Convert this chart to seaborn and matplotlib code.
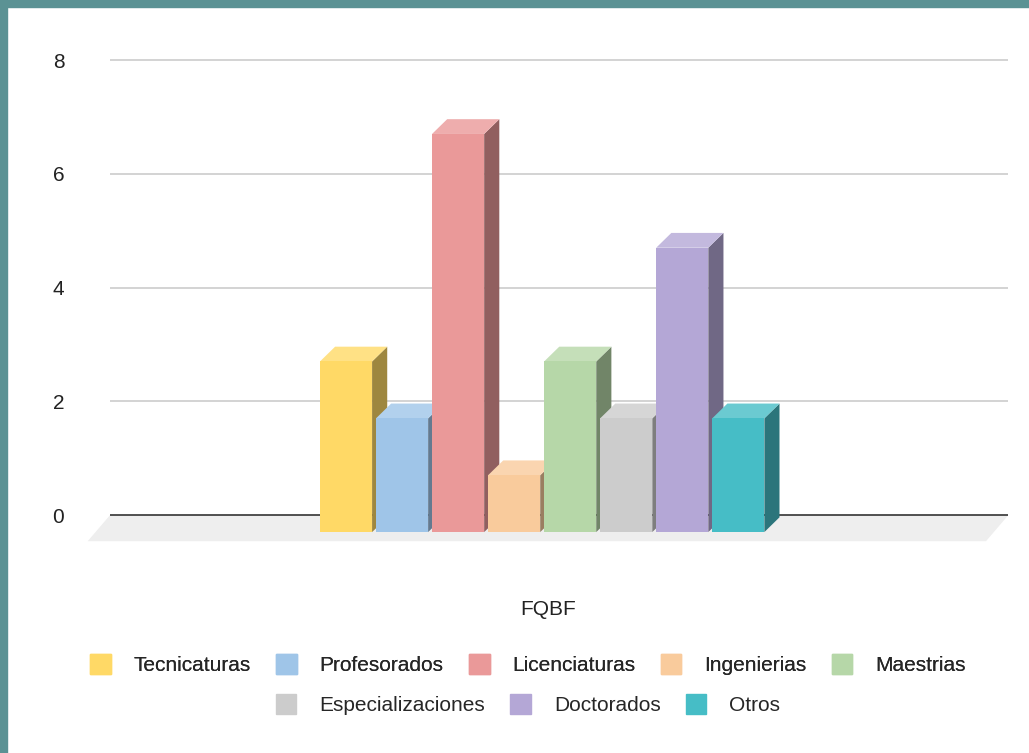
import matplotlib.pyplot as plt
import matplotlib.patches as mpatches
from matplotlib.colors import to_rgb
import seaborn as sns
import pandas as pd

categories = ['Tecnicaturas', 'Profesorados', 'Licenciaturas', 'Ingenierias',
              'Maestrias', 'Especializaciones', 'Doctorados', 'Otros']
values = [3, 2, 7, 1, 3, 2, 5, 2]
colors = ['#FFD966', '#9FC5E8', '#EA9999', '#F9CB9C',
          '#B6D7A8', '#CCCCCC', '#B4A7D6', '#46BDC6']
group_label = 'FQBF'

data = pd.DataFrame({'cat': categories, 'val': values})

sns.set_style('white')
plt.rcParams['font.family'] = ['Liberation Sans', 'DejaVu Sans']

fig = plt.figure(figsize=(10.29, 7.53), dpi=100)
ax = fig.add_axes([0.107, 0.2556, 0.873, 0.6798])

shift = 0.30   # front face drop
dx, dy = 0.27, 0.26
w = 0.93

ax.set_xlim(-4.21, 11.82)
ax.set_ylim(-0.8, 8.2)

# floor
ax.add_patch(mpatches.Polygon([(-4.21, 0), (11.82, 0), (11.42, -0.46), (-4.61, -0.46)],
                              closed=True, facecolor='#EEEEEE', edgecolor='none', zorder=0, clip_on=False))
for g in [2, 4, 6, 8]:
    ax.axhline(g, color='#CCCCCC', lw=1.2, zorder=0)
ax.axhline(0, color='#333333', lw=1.2, zorder=1)

sns.barplot(data=data, x='cat', y='val', hue='cat', palette=colors, dodge=False, saturation=1,
            width=w, bottom=-shift, legend=False, ax=ax, zorder=3, linewidth=0)

for i, (v, c) in enumerate(zip(values, colors)):
    r, g, b = to_rgb(c)
    x0, x1 = i - w / 2, i + w / 2
    top = v - shift
    side = (r * 0.62, g * 0.62, b * 0.62)
    light = tuple(k + (1 - k) * 0.2 for k in (r, g, b))
    ax.add_patch(mpatches.Polygon([(x1, -shift), (x1 + dx, -shift + dy), (x1 + dx, top + dy), (x1, top)],
                                  closed=True, facecolor=side, edgecolor='none', zorder=2))
    ax.add_patch(mpatches.Polygon([(x0, top), (x1, top), (x1 + dx, top + dy), (x0 + dx, top + dy)],
                                  closed=True, facecolor=light, edgecolor='none', zorder=2))

ax.set_xlim(-4.21, 11.82)
ax.set_ylim(-0.8, 8.2)
ax.set_yticks([0, 2, 4, 6, 8])
ax.set_xticks([])
ax.set_xlabel('')
ax.set_ylabel('')
ax.tick_params(axis='y', labelsize=15, length=0, pad=33, colors='#222222')
for s in ax.spines.values():
    s.set_visible(False)
ax.patch.set_alpha(0)

fig.text(0.533, 0.19, group_label, ha='center', va='center', fontsize=15, color='#222222')

handles = [mpatches.Patch(color=c, label=l) for c, l in zip(colors, categories)]
leg1 = fig.legend(handles=handles[:5], loc='center', bbox_to_anchor=(0.513, 0.117), ncol=5,
                  frameon=False, fontsize=15, handlelength=1.0, handleheight=1.1,
                  handletextpad=1.1, columnspacing=1.2)
fig.add_artist(leg1)
fig.legend(handles=handles[5:], loc='center', bbox_to_anchor=(0.513, 0.064), ncol=3,
           frameon=False, fontsize=15, handlelength=1.0, handleheight=1.1,
           handletextpad=1.1, columnspacing=1.2)

# teal border strips
fig.patches.append(mpatches.Rectangle((0, 0), 0.007, 1, transform=fig.transFigure, color='#5B9294'))
fig.patches.append(mpatches.Rectangle((0, 0.991), 1, 0.009, transform=fig.transFigure, color='#5B9294'))

fig.savefig('out.png', dpi=100)
